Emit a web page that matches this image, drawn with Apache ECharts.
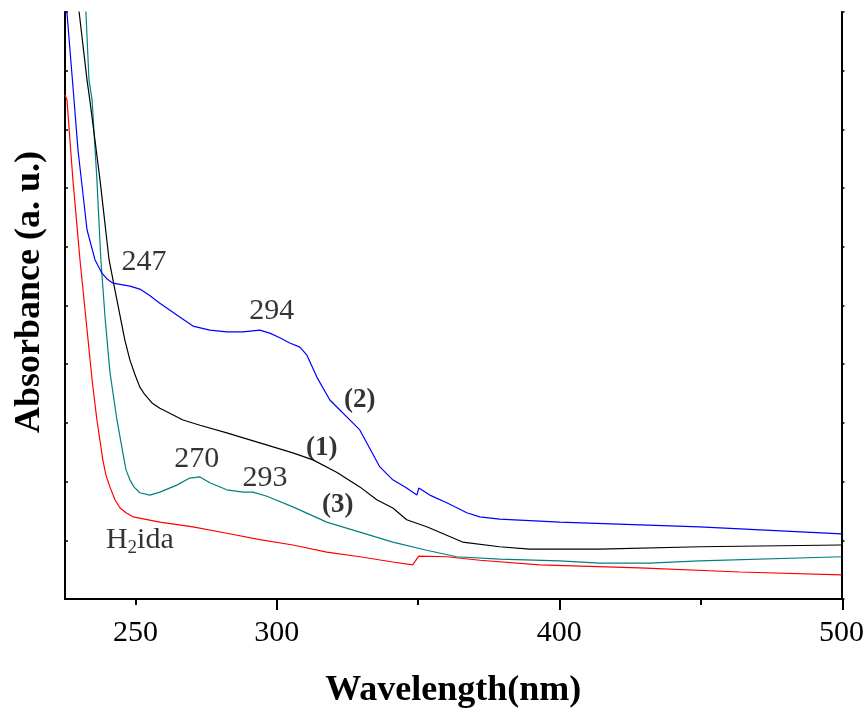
<!DOCTYPE html>
<html><head><meta charset="utf-8">
<script src="https://cdn.jsdelivr.net/npm/echarts@6/dist/echarts.min.js"></script>
<style>html,body{margin:0;padding:0;background:#fff}#c{width:867px;height:717px}</style>
</head><body><div id="c"></div>
<script>
// ---- data (wavelength in nm, absorbance in arbitrary units) ----
const xTickLabels = [250, 300, 400, 500];
const xShortTicks = [250, 350, 450];
const xLongTicks = [300, 400, 500];

const wl2 = [225, 228.2, 229.6, 232.8, 235.6, 238.1, 239.9, 242.0, 248.0, 251.5, 255.0, 258.6, 264.6, 270.3, 276.3, 282.3, 288.0, 294.0, 297.5, 301.1, 304.6, 308.2, 310.6, 314.2, 318.8, 329.4, 336.5, 341.1, 346.0, 349.6, 350.3, 354.2, 360.2, 367.3, 371.9, 378.9, 400.2, 449.7, 500];
const abs2 = [10.4, 8.50, 7.65, 6.29, 5.78, 5.55, 5.45, 5.38, 5.33, 5.28, 5.17, 5.04, 4.84, 4.65, 4.58, 4.55, 4.55, 4.58, 4.53, 4.45, 4.36, 4.29, 4.16, 3.78, 3.39, 2.88, 2.25, 2.03, 1.89, 1.77, 1.89, 1.77, 1.64, 1.47, 1.40, 1.36, 1.31, 1.23, 1.11];

const wl1 = [228.5, 230.0, 232.8, 233.8, 237.4, 240.6, 242.7, 246.2, 248.0, 249.8, 251.5, 253.3, 255.8, 258.6, 266.8, 272.8, 282.3, 294.0, 305.7, 312.8, 321.2, 329.4, 335.4, 341.1, 346.0, 353.1, 365.8, 378.9, 389.5, 414.3, 449.7, 500];
const abs1 = [10.6, 10.0, 8.84, 8.50, 7.14, 5.78, 5.26, 4.41, 4.07, 3.82, 3.61, 3.48, 3.34, 3.25, 3.05, 2.96, 2.83, 2.66, 2.49, 2.37, 2.16, 1.91, 1.69, 1.55, 1.35, 1.23, 0.97, 0.89, 0.85, 0.85, 0.89, 0.92];

const wl3 = [232.0, 232.4, 233.5, 234.6, 236.3, 237.7, 239.2, 240.9, 243.4, 245.5, 246.6, 248.0, 249.4, 251.5, 255.1, 258.6, 264.6, 269.2, 272.8, 276.3, 282.3, 288.0, 291.5, 296.5, 305.7, 317.7, 329.4, 341.1, 353.1, 363.7, 378.9, 400.2, 414.3, 432.0, 449.7, 500];
const abs3 = [10.4, 10.0, 8.84, 8.50, 7.14, 5.78, 4.79, 3.87, 3.05, 2.49, 2.20, 2.03, 1.91, 1.81, 1.77, 1.82, 1.94, 2.06, 2.08, 1.98, 1.86, 1.82, 1.82, 1.75, 1.57, 1.31, 1.14, 0.97, 0.83, 0.72, 0.68, 0.65, 0.61, 0.61, 0.65, 0.72];

const wlH = [225, 225.7, 227.8, 230.3, 234.6, 236.3, 238.4, 239.5, 240.9, 242.7, 244.5, 246.6, 249.1, 258.6, 270.3, 282.3, 294.0, 305.7, 317.7, 329.4, 341.1, 348.1, 350.3, 360.2, 371.9, 393.1, 428.5, 463.9, 500];
const absH = [8.59, 8.50, 7.14, 5.78, 3.73, 3.05, 2.37, 2.11, 1.91, 1.69, 1.55, 1.47, 1.40, 1.31, 1.23, 1.12, 1.01, 0.92, 0.80, 0.72, 0.63, 0.58, 0.73, 0.72, 0.66, 0.58, 0.53, 0.46, 0.41];

// annotation texts and their anchors in data coordinates
const noteText = ['247', '294', '(2)', '(1)', '270', '293', '(3)', 'H2ida'];
const noteWl = [253.0, 298.2, 329.4, 315.9, 271.7, 295.8, 321.6, 251.5];
const noteAbs = [5.74, 4.91, 3.39, 2.57, 2.39, 2.06, 1.60, 1.0];
const noteBold = [false, false, true, true, false, false, true, false];

const FONT = "'Liberation Serif', 'Times New Roman', serif";
const zip = (a, b) => a.map((v, i) => [v, b[i]]);

const chart = echarts.init(document.getElementById('c'), null, {renderer: 'canvas'});

function lineSeries(name, wl, ab, color) {
  return {
    name, type: 'line', xAxisIndex: 0, yAxisIndex: 0,
    data: zip(wl, ab), showSymbol: false, symbol: 'none',
    lineStyle: {color, width: 1.2}, smooth: false, clip: true, animation: false
  };
}

const notes = noteText.map((t, i) => ({
  value: [noteWl[i], noteAbs[i]],
  label: {
    formatter: t === 'H2ida' ? '{n|H}{s|2}{n|ida}' : t,
    color: '#000',
    fontWeight: noteBold[i] ? 'bold' : 'normal',
    fontSize: noteBold[i] ? 27 : 30
  }
}));

const option = {
  backgroundColor: '#fff',
  animation: false,
  grid: [
    {left: 65, right: 24, top: 12, bottom: 118, containLabel: false},
    {left: 65, right: 24, top: 12, bottom: 118, containLabel: false}
  ],
  xAxis: [
    {
      type: 'value', gridIndex: 0, min: 225, max: 500, position: 'bottom',
      axisLine: {show: true, lineStyle: {color: '#000', width: 2}},
      axisTick: {show: true, customValues: xShortTicks, length: 6, lineStyle: {color: '#000', width: 2}},
      axisLabel: {show: true, customValues: xTickLabels, color: '#000', fontFamily: FONT, fontSize: 30, margin: 19},
      splitLine: {show: false},
      name: 'Wavelength(nm)', nameLocation: 'middle', nameGap: 74,
      nameTextStyle: {color: '#000', fontFamily: FONT, fontSize: 36, fontWeight: 'bold'}
    },
    {
      type: 'value', gridIndex: 0, min: 225, max: 500, position: 'top',
      axisLine: {show: true, lineStyle: {color: '#000', width: 2}},
      axisTick: {show: false}, axisLabel: {show: false}, splitLine: {show: false}
    },
    {
      type: 'value', gridIndex: 1, min: 225, max: 500, position: 'bottom',
      axisLine: {show: false},
      axisTick: {show: true, customValues: xLongTicks, length: 11, lineStyle: {color: '#000', width: 2}},
      axisLabel: {show: false}, splitLine: {show: false}
    }
  ],
  yAxis: [
    {
      type: 'value', gridIndex: 0, min: 0, max: 10, interval: 1, position: 'left',
      axisLine: {show: true, lineStyle: {color: '#000', width: 2}},
      axisTick: {show: true, inside: true, length: 3, lineStyle: {color: '#000', width: 1.5}},
      axisLabel: {show: false}, splitLine: {show: false}
    },
    {
      type: 'value', gridIndex: 0, min: 0, max: 10, interval: 1, position: 'right',
      axisLine: {show: true, lineStyle: {color: '#000', width: 2}},
      axisTick: {show: true, inside: false, length: 3, lineStyle: {color: '#000', width: 1.5}},
      axisLabel: {show: false}, splitLine: {show: false}
    },
    {
      type: 'value', gridIndex: 1, min: 0, max: 10, show: false
    }
  ],
  graphic: [{
    type: 'text',
    rotation: Math.PI / 2,
    x: 30, y: 292,
    style: {text: 'Absorbance (a. u.)', fill: '#000', font: "bold 36px 'Liberation Serif', 'Times New Roman', serif",
            align: 'center', verticalAlign: 'middle'}
  }],
  series: [
    lineSeries('H2ida', wlH, absH, '#ff0000'),
    lineSeries('(3)', wl3, abs3, '#008080'),
    lineSeries('(1)', wl1, abs1, '#000000'),
    lineSeries('(2)', wl2, abs2, '#0000ff'),
    {
      type: 'scatter', xAxisIndex: 0, yAxisIndex: 0, symbolSize: 0, silent: true,
      data: notes,
      label: {
        show: true, position: [0, 0], align: 'center', verticalAlign: 'middle',
        color: '#000', fontFamily: FONT, textBorderWidth: 0,
        rich: {
          n: {fontSize: 30, fontFamily: FONT, color: '#000'},
          s: {fontSize: 19, fontFamily: FONT, color: '#000', padding: [16, 0, 0, 0]}
        }
      }
    }
  ]
};
chart.setOption(option);
</script>
</body></html>
